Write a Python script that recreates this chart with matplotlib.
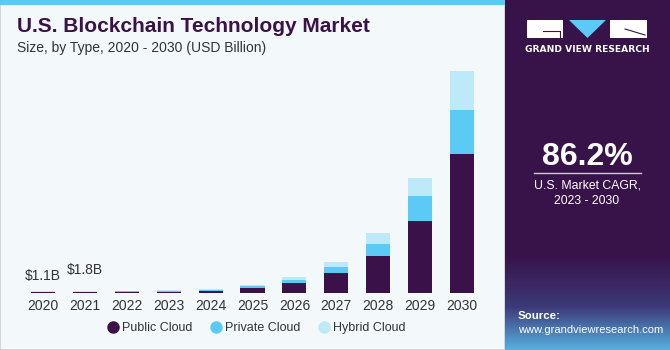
import matplotlib
matplotlib.use("Agg")
import matplotlib.pyplot as plt
import numpy as np
from matplotlib.patches import Rectangle, Polygon
from matplotlib.lines import Line2D

years = ["2020", "2021", "2022", "2023", "2024", "2025", "2026", "2027", "2028", "2029", "2030"]
public_cloud = [1.0, 1.0, 1.1, 1.4, 2.0, 5.6, 10.0, 20.0, 37.3, 72.0, 139.0]
private_cloud = [0.8, 0.8, 0.8, 1.1, 1.6, 1.7, 3.7, 6.7, 12.3, 25.6, 44.0]
hybrid_cloud = [0.6, 0.7, 0.8, 1.0, 1.2, 1.2, 2.7, 4.7, 11.0, 18.0, 39.0]
labels = {0: "$1.1B", 1: "$1.8B"}
series_names = ["Public Cloud", "Private Cloud", "Hybrid Cloud"]

C_PUB = "#3a1149"
C_PRI = "#5bcbf5"
C_HYB = "#bde9f8"
BG = "#f3f8fb"
PANEL = "#37134a"

W, H = 670, 350
fig = plt.figure(figsize=(6.7, 3.5), dpi=100)
fig.patch.set_facecolor("white")

def fx(x):
    return x / W

def fy(y):
    return 1 - y / H

# background areas
bg_ax = fig.add_axes([0, 0, 1, 1])
bg_ax.axis("off")
bg_ax.add_patch(Rectangle((0, 0), 505, H, facecolor=BG, edgecolor="#d0d0d0", lw=1.2))
bg_ax.add_patch(Rectangle((0, 0), 505, 5, facecolor=C_PRI, edgecolor="none"))
grad = np.linspace(0, 1, 100)
cols = []
c_top = np.array(matplotlib.colors.to_rgb(PANEL))
c_mid = np.array(matplotlib.colors.to_rgb("#3d3a7a"))
c_bot = np.array(matplotlib.colors.to_rgb("#56b0e0"))
for g in grad:
    if g < 0.55:
        t = g / 0.55
        cols.append(c_top * (1 - t) + c_mid * t)
    else:
        t = (g - 0.55) / 0.45
        cols.append(c_mid * (1 - t) + c_bot * t)
img = np.array(cols).reshape(-1, 1, 3)
bg_ax.add_patch(Rectangle((505, 0), 165, H, facecolor=PANEL, edgecolor="none"))
bg_ax.imshow(img, extent=[505, 670, 350, 255], aspect="auto", zorder=1)
bg_ax.set_xlim(0, W)
bg_ax.set_ylim(H, 0)

# logo
bg_ax.add_patch(Rectangle((527, 20), 36, 18, facecolor="white", edgecolor="none", zorder=3))
bg_ax.add_patch(Polygon([[569, 20], [606, 20], [587.5, 38]], closed=True, facecolor=C_PRI, edgecolor="none", zorder=3))
bg_ax.add_patch(Rectangle((610, 20), 37, 18, facecolor="white", edgecolor="none", zorder=3))
bg_ax.plot([543, 560, 560], [31, 31, 38], color=PANEL, lw=0.8, zorder=4)
bg_ax.plot([625, 645], [29, 35], color=PANEL, lw=0.8, zorder=4)
bg_ax.text(587, 50, "GRAND VIEW RESEARCH", color="white", fontsize=6.6, fontweight="bold",
           ha="center", va="center", family="DejaVu Sans", zorder=4)

bg_ax.text(587, 157, "86.2%", color="white", fontsize=23, fontweight="bold",
           ha="center", va="center", family="Liberation Sans", zorder=4)
bg_ax.plot([534, 641], [173, 173], color="#cfc8d8", lw=1.0, zorder=4)
bg_ax.text(587, 185, "U.S. Market CAGR,", color="white", fontsize=8.8,
           ha="center", va="center", family="Liberation Sans", zorder=4)
bg_ax.text(587, 201, "2023 - 2030", color="white", fontsize=8.8,
           ha="center", va="center", family="Liberation Sans", zorder=4)
bg_ax.text(518, 316, "Source:", color="white", fontsize=8.2, fontweight="bold",
           ha="left", va="center", family="Liberation Sans", zorder=4)
bg_ax.text(518, 330, "www.grandviewresearch.com", color="white", fontsize=8.0,
           ha="left", va="center", family="Liberation Sans", zorder=4)

# titles
fig.text(fx(17), fy(27), "U.S. Blockchain Technology Market", color=C_PUB, fontsize=15,
         fontweight="bold", ha="left", va="center", family="Liberation Sans")
fig.text(fx(17), fy(48), "Size, by Type, 2020 - 2030 (USD Billion)", color="#333333", fontsize=10,
         ha="left", va="center", family="Liberation Sans")

# chart axes
base_y = 293.3
top_y = 60
ax = fig.add_axes([fx(20), fy(base_y), fx(485) - fx(20), (base_y - top_y) / H])
ax.set_facecolor("none")
x = np.arange(len(years))
pub = np.array(public_cloud)
pri = np.array(private_cloud)
hyb = np.array(hybrid_cloud)
bw = 0.573
ax.bar(x, pub, width=bw, color=C_PUB, edgecolor="none")
ax.bar(x, pri, width=bw, bottom=pub, color=C_PRI, edgecolor="none")
ax.bar(x, hyb, width=bw, bottom=pub + pri, color=C_HYB, edgecolor="none")
ax.set_xlim(-0.549, 10.549)
ax.set_ylim(0, base_y - top_y)
for s in ax.spines.values():
    s.set_visible(False)
ax.set_yticks([])
ax.set_xticks(x)
ax.set_xticklabels(years, fontsize=10, color="#333333", family="Liberation Sans")
ax.tick_params(axis="x", length=0, pad=4)
tot = pub + pri + hyb
for i, t in labels.items():
    ax.text(i, tot[i] + (15 if i == 0 else 21), t, ha="center", va="center", fontsize=10,
            color="#333333", family="Liberation Sans")

handles = [Line2D([0], [0], marker="o", color="none", markerfacecolor=c, markeredgecolor="none", markersize=9)
           for c in [C_PUB, C_PRI, C_HYB]]
fig.legend(handles, series_names, loc="center", bbox_to_anchor=(fx(256), fy(328)), ncol=3, frameon=False,
           prop={"family": "Liberation Sans", "size": 9}, handletextpad=0.2, columnspacing=1.4,
           handlelength=1.0, labelcolor="#333333")

fig.savefig("out.png", dpi=100, facecolor=fig.get_facecolor())
